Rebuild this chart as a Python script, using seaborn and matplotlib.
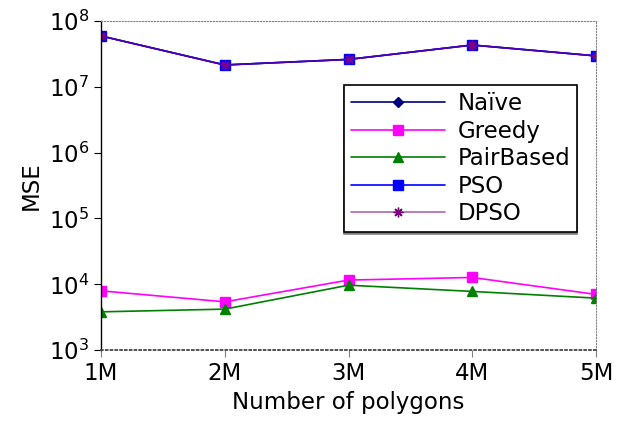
import matplotlib
matplotlib.use("Agg")
import matplotlib.pyplot as plt
import seaborn as sns
import pandas as pd

x_labels = ["1M", "2M", "3M", "4M", "5M"]
x_pos = [1, 2, 3, 4, 5]
naive = [5.9e7, 2.14e7, 2.6e7, 4.3e7, 2.94e7]
greedy = [7960, 5420, 11600, 12700, 7030]
pairbased = [3820, 4200, 9700, 7800, 6170]
pso = [5.9e7, 2.14e7, 2.6e7, 4.3e7, 2.94e7]
dpso = [5.9e7, 2.14e7, 2.6e7, 4.3e7, 2.94e7]

series = [
    ("Naïve", naive, "navy", "navy", "D", 5),
    ("Greedy", greedy, "magenta", "magenta", "s", 7),
    ("PairBased", pairbased, "green", "green", "^", 7),
    ("PSO", pso, "blue", "blue", "s", 7),
    ("DPSO", dpso, (0.5, 0.0, 0.5, 0.6), "purple", (8, 2, 0), 7),
]

sns.set_style("ticks")
plt.rcParams['font.family'] = ['DejaVu Sans']
plt.rcParams['text.color'] = 'black'
plt.rcParams['axes.labelcolor'] = 'black'
plt.rcParams['xtick.color'] = 'black'
plt.rcParams['ytick.color'] = 'black'
fig, ax = plt.subplots(figsize=(6.24, 4.26), dpi=100)

for name, vals, lc, mc, mk, ms in series:
    df = pd.DataFrame({"x": x_pos, "y": vals})
    sns.lineplot(data=df, x="x", y="y", ax=ax, color=lc, marker=mk,
                 markersize=ms, markerfacecolor=mc, markeredgecolor=mc,
                 markeredgewidth=1.0, linewidth=1.2, label=name)

ax.set_yscale("log")
ax.set_ylim(1e3, 1e8)
ax.set_xlim(1, 5)
ax.set_xticks(x_pos)
ax.set_xticklabels(x_labels)
ax.minorticks_off()
ax.tick_params(axis="both", labelsize=16.5, direction="out", length=5)
ax.tick_params(axis="x", color="gray")
ax.set_xlabel("Number of polygons", fontsize=16.5)
ax.set_ylabel("MSE", fontsize=16.5)

for s in ["top", "right"]:
    ax.spines[s].set_linestyle(":")
    ax.spines[s].set_color("gray")
ax.spines["left"].set_color("black")
ax.spines["left"].set_linewidth(1.0)
ax.spines["bottom"].set_linestyle(":")
ax.spines["bottom"].set_color("#444444")
ax.spines["bottom"].set_linewidth(1.3)

leg = ax.legend(loc="upper right", bbox_to_anchor=(0.962, 0.805), fontsize=16.5,
                frameon=True, fancybox=False,
                shadow={"ox": 0, "oy": -1.5, "color": "gray", "alpha": 1.0},
                borderpad=0.3, borderaxespad=0, handlelength=4.1,
                handletextpad=0.55, labelspacing=0.2)
leg.get_frame().set_edgecolor("black")
leg.get_frame().set_linewidth(1.2)

fig.subplots_adjust(left=0.162, right=0.955, top=0.951, bottom=0.178)
fig.savefig("out.png", dpi=100)
